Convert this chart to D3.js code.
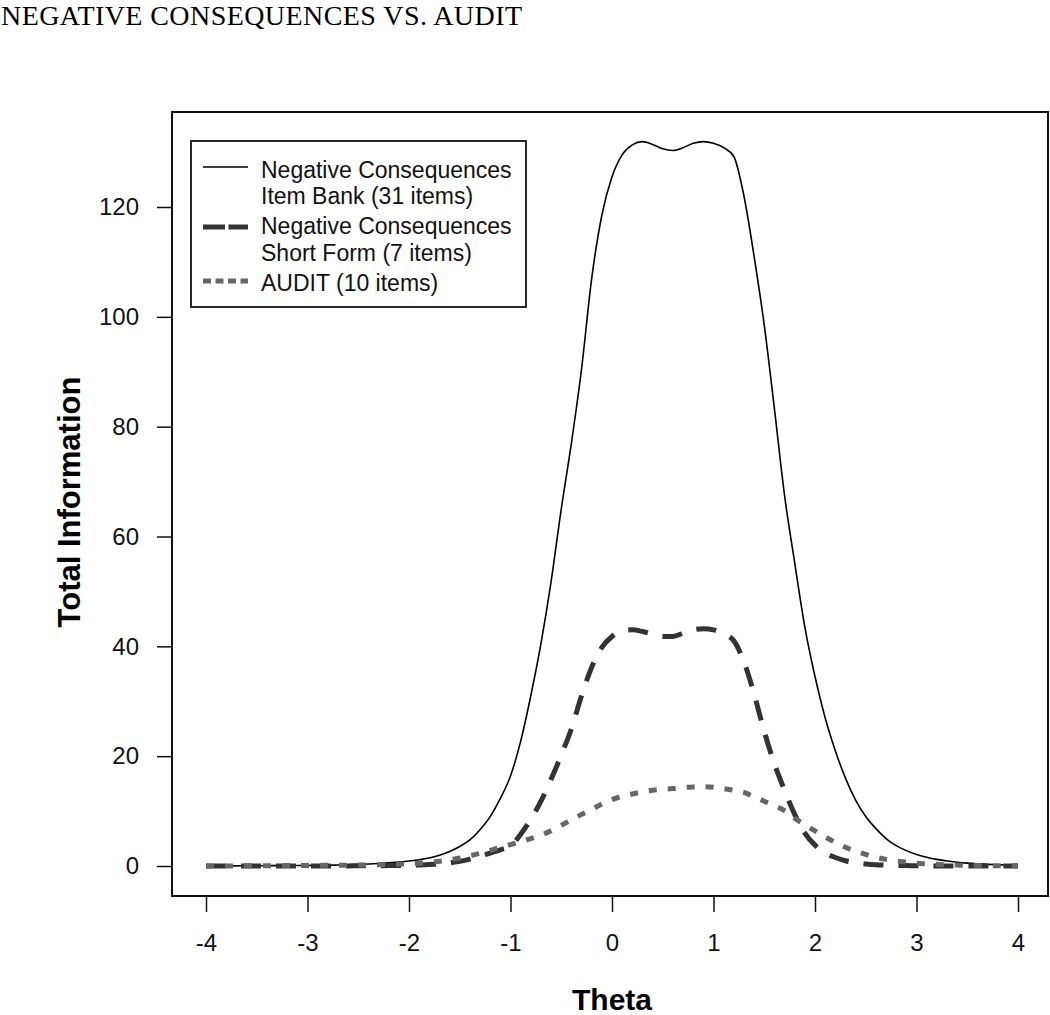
<!DOCTYPE html>
<html>
<head>
<meta charset="utf-8">
<script src="https://cdnjs.cloudflare.com/ajax/libs/d3/7.8.5/d3.min.js"></script>
<style>
  html, body { margin: 0; padding: 0; background: #fff; }
  svg { display: block; }
</style>
</head>
<body>
<svg id="chart" width="1050" height="1015"></svg>
<script>
// ---------------- DATA ----------------
const title = "NEGATIVE CONSEQUENCES VS. AUDIT";
const xLabel = "Theta";
const yLabel = "Total Information";
const xTicks = [-4, -3, -2, -1, 0, 1, 2, 3, 4];
const yTicks = [0, 20, 40, 60, 80, 100, 120];

const theta = [
  -4.0,-3.9,-3.8,-3.7,-3.6,-3.5,-3.4,-3.3,-3.2,-3.1,
  -3.0,-2.9,-2.8,-2.7,-2.6,-2.5,-2.4,-2.3,-2.2,-2.1,
  -2.0,-1.9,-1.8,-1.7,-1.6,-1.5,-1.4,-1.3,-1.2,-1.1,
  -1.0,-0.9,-0.8,-0.7,-0.6,-0.5,-0.4,-0.3,-0.2,-0.1,
   0.0, 0.1, 0.2, 0.3, 0.4, 0.5, 0.6, 0.7, 0.8, 0.9,
   1.0, 1.1, 1.2, 1.3, 1.4, 1.5, 1.6, 1.7, 1.8, 1.9,
   2.0, 2.1, 2.2, 2.3, 2.4, 2.5, 2.6, 2.7, 2.8, 2.9,
   3.0, 3.1, 3.2, 3.3, 3.4, 3.5, 3.6, 3.7, 3.8, 3.9, 4.0
];

const itemBank = [
  0.02,0.02,0.03,0.03,0.04,0.05,0.06,0.07,0.08,0.09,
  0.10,0.12,0.14,0.17,0.21,0.28,0.36,0.46,0.58,0.72,
  0.90,1.15,1.45,1.95,2.65,3.55,4.75,6.60,9.00,12.3,
  16.4,22.7,31.0,40.5,51.8,65.0,77.0,90.5,107.0,118.5,
  125.5,129.5,131.3,131.9,131.4,130.6,130.3,130.8,131.6,131.9,
  131.6,130.8,129.2,122.0,111.0,98.5,83.3,67.5,55.2,43.5,
  34.5,27.0,21.0,16.0,12.0,9.0,6.8,5.0,3.7,2.8,
  2.10,1.60,1.20,0.90,0.68,0.52,0.40,0.30,0.23,0.17,0.13
];

const shortForm = [
  0.00,0.00,0.00,0.00,0.00,0.00,0.00,0.00,0.00,0.00,
  0.01,0.01,0.01,0.02,0.02,0.03,0.04,0.05,0.07,0.09,
  0.12,0.18,0.26,0.38,0.55,0.85,1.25,1.75,2.35,2.95,
  3.60,5.80,8.50,11.8,15.8,20.2,25.0,31.0,36.2,39.8,
  41.8,42.8,43.0,42.7,42.2,41.8,41.8,42.4,43.0,43.2,
  43.0,42.3,41.0,37.2,31.3,24.5,18.6,13.8,9.4,6.0,
  3.80,2.40,1.55,0.95,0.60,0.38,0.24,0.16,0.10,0.07,
  0.05,0.03,0.02,0.02,0.01,0.01,0.01,0.00,0.00,0.00,0.00
];

const audit = [
  0.00,0.01,0.01,0.02,0.03,0.04,0.05,0.06,0.07,0.08,
  0.10,0.11,0.12,0.14,0.16,0.18,0.21,0.25,0.29,0.34,
  0.40,0.50,0.65,0.85,1.10,1.45,1.85,2.30,2.85,3.40,
  3.90,4.40,5.00,5.60,6.40,7.40,8.40,9.40,10.3,11.3,
  12.1,12.7,13.1,13.5,13.8,13.95,14.1,14.3,14.4,14.45,
  14.35,14.1,13.8,13.4,12.6,11.8,11.0,10.1,8.7,7.5,
  6.40,5.30,4.30,3.40,2.70,2.10,1.60,1.20,0.90,0.70,
  0.50,0.40,0.30,0.22,0.16,0.12,0.09,0.07,0.05,0.04,0.03
];

const legendLabels = [
  ["Negative Consequences", "Item Bank (31 items)"],
  ["Negative Consequences", "Short Form (7 items)"],
  ["AUDIT (10 items)"]
];

// ---------------- LAYOUT ----------------
const svg = d3.select("#chart");
const box = { left: 172, top: 112, right: 1048, bottom: 896 };

const x = d3.scaleLinear().domain([-4, 4]).range([206, 1018]);
const y = d3.scaleLinear().domain([0, 120]).range([866, 207]);

// title
svg.append("text")
  .attr("x", 1).attr("y", 25)
  .attr("font-family", "'Liberation Serif','Times New Roman',serif")
  .attr("font-size", 28)
  .attr("textLength", 521)
  .attr("lengthAdjust", "spacing")
  .attr("fill", "#000")
  .text(title);

// plot frame
svg.append("rect")
  .attr("x", box.left).attr("y", box.top)
  .attr("width", box.right - box.left).attr("height", box.bottom - box.top)
  .attr("fill", "none").attr("stroke", "#111").attr("stroke-width", 2);

const fmt = d => String(d);

// x axis
const xAxis = d3.axisBottom(x).tickValues(xTicks).tickSize(16).tickPadding(22)
  .tickFormat(fmt);
const gx = svg.append("g").attr("transform", `translate(0,${box.bottom})`).call(xAxis);
gx.select(".domain").remove();
gx.selectAll(".tick line").attr("stroke", "#111").attr("stroke-width", 1.5);
gx.selectAll(".tick text")
  .attr("font-family", "'Liberation Sans',Arial,sans-serif")
  .attr("font-size", 24).attr("fill", "#111");

// y axis
const yAxis = d3.axisLeft(y).tickValues(yTicks).tickSize(15).tickPadding(18)
  .tickFormat(fmt);
const gy = svg.append("g").attr("transform", `translate(${box.left},0)`).call(yAxis);
gy.select(".domain").remove();
gy.selectAll(".tick line").attr("stroke", "#111").attr("stroke-width", 1.5);
gy.selectAll(".tick text")
  .attr("font-family", "'Liberation Sans',Arial,sans-serif")
  .attr("font-size", 24).attr("fill", "#111");

// axis titles
svg.append("text")
  .attr("x", 612).attr("y", 1010)
  .attr("text-anchor", "middle")
  .attr("font-family", "'Liberation Sans',Arial,sans-serif")
  .attr("font-weight", "bold").attr("font-size", 30)
  .attr("fill", "#000")
  .text(xLabel);

svg.append("text")
  .attr("transform", "translate(80,502) rotate(-90)")
  .attr("text-anchor", "middle")
  .attr("font-family", "'Liberation Sans',Arial,sans-serif")
  .attr("font-weight", "bold").attr("font-size", 31)
  .attr("fill", "#000")
  .text(yLabel);

// series
const series = [
  { values: itemBank, stroke: "#000", width: 1.6, dash: null },
  { values: shortForm, stroke: "#333", width: 5, dash: "20,15" },
  { values: audit, stroke: "#666", width: 5, dash: "8,11" }
];

const line = d3.line()
  .x(d => x(d[0]))
  .y(d => y(d[1]))
  .curve(d3.curveMonotoneX);

series.forEach(s => {
  const pts = theta.map((t, i) => [t, s.values[i]]);
  svg.append("path")
    .datum(pts)
    .attr("d", line)
    .attr("fill", "none")
    .attr("stroke", s.stroke)
    .attr("stroke-width", s.width)
    .attr("stroke-dasharray", s.dash);
});

// legend
const lg = svg.append("g");
lg.append("rect")
  .attr("x", 191).attr("y", 141).attr("width", 335).attr("height", 166)
  .attr("fill", "#fff").attr("stroke", "#111").attr("stroke-width", 1.8);

const legendSym = [
  { y: 167, stroke: "#000", width: 1.6, dash: null },
  { y: 227, stroke: "#333", width: 5, dash: "22,3.5" },
  { y: 281, stroke: "#666", width: 5, dash: "8,4.5" }
];
const legendTextY = [[178, 204], [234, 261], [291]];

legendSym.forEach((s, i) => {
  lg.append("line")
    .attr("x1", 203).attr("x2", 248)
    .attr("y1", s.y).attr("y2", s.y)
    .attr("stroke", s.stroke).attr("stroke-width", s.width)
    .attr("stroke-dasharray", s.dash);
  legendLabels[i].forEach((t, j) => {
    lg.append("text")
      .attr("x", 261).attr("y", legendTextY[i][j])
      .attr("font-family", "'Liberation Sans',Arial,sans-serif")
      .attr("font-size", 23).attr("fill", "#111")
      .text(t);
  });
});
</script>
</body>
</html>
